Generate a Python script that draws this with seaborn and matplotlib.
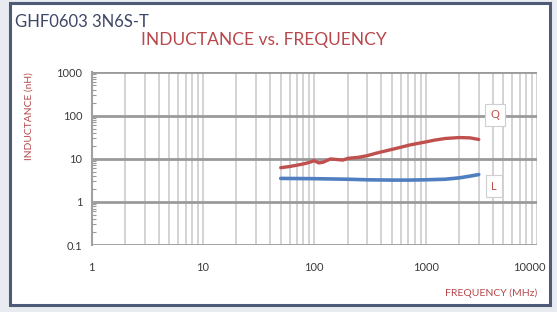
import matplotlib
matplotlib.use("Agg")
import matplotlib.pyplot as plt
import matplotlib.patches as mpatches
import matplotlib.ticker as mticker
import matplotlib.transforms as mtransforms
import numpy as np
import pandas as pd
import seaborn as sns

# ---- data ----
freq_q = [50, 60, 70, 80, 90, 100, 110, 120, 140, 160, 180, 200, 250, 300, 350, 400,
          500, 600, 700, 800, 1000, 1200, 1500, 2000, 2500, 3000]
q_vals = [6.2, 6.6, 7.1, 7.6, 8.2, 9.0, 8.0, 8.3, 9.9, 9.6, 9.3, 10.2, 10.8, 11.8, 13.2, 14.4,
          16.5, 18.5, 20.5, 22.0, 24.5, 27.0, 29.5, 31.0, 30.5, 28.0]
freq_l = [50, 100, 200, 300, 500, 700, 1000, 1500, 2000, 2500, 3000]
l_vals = [3.5, 3.45, 3.35, 3.25, 3.2, 3.2, 3.25, 3.35, 3.6, 3.95, 4.3]

x_ticks = [1, 10, 100, 1000, 10000]
x_tick_labels = ["1", "10", "100", "1000", "10000"]
y_ticks = [0.1, 1, 10, 100, 1000]
y_tick_labels = ["0.1", "1", "10", "100", "1000"]

title_part = "GHF0603 3N6S-T"
title_main = "INDUCTANCE vs. FREQUENCY"
x_label = "FREQUENCY (MHz)"
y_label = "INDUCTANCE (nH)"

RED = "#c0504d"
BLUE = "#4f7fc0"
TXT_RED = "#b8474b"

sns.set_theme(style="white")
plt.rcParams["font.family"] = ["Lato", "DejaVu Sans"]

fig = plt.figure(figsize=(5.57, 3.12), dpi=100)
fig.patch.set_facecolor("#e8ecf0")
W, H = 557, 312
panel = mpatches.Rectangle((10 / W, 1 - 305 / H), 540 / W, 302 / H,
                           transform=fig.transFigure, facecolor="white",
                           edgecolor="#4d5a78", linewidth=2.2, zorder=-5)
fig.patches.append(panel)

ax = fig.add_axes([91.5 / W, 1 - 245 / H, 445.5 / W, 172.5 / H])
ax.set_zorder(2)
ax.set_facecolor("none")

df_q = pd.DataFrame({"f": freq_q, "v": q_vals})
df_l = pd.DataFrame({"f": freq_l, "v": l_vals})
sns.lineplot(data=df_q, x="f", y="v", ax=ax, color=RED, linewidth=2.4, zorder=5)
sns.lineplot(data=df_l, x="f", y="v", ax=ax, color=BLUE, linewidth=2.6, zorder=5)

ax.set_xscale("log")
ax.set_yscale("log")
ax.set_xlim(1, 10000)
ax.set_ylim(0.1, 1000)

ax.xaxis.set_major_locator(mticker.FixedLocator(x_ticks))
ax.xaxis.set_minor_locator(mticker.LogLocator(base=10, subs=np.arange(2, 10)))
ax.yaxis.set_major_locator(mticker.FixedLocator(y_ticks))
ax.yaxis.set_minor_locator(mticker.LogLocator(base=10, subs=np.arange(2, 10)))
ax.set_xticklabels(x_tick_labels)
ax.set_yticklabels(y_tick_labels)
ax.xaxis.set_minor_formatter(mticker.NullFormatter())
ax.yaxis.set_minor_formatter(mticker.NullFormatter())

ax.grid(which="both", axis="x", color="#cccccc", linewidth=1.2)
ax.grid(which="major", axis="y", color="#9a9a9a", linewidth=2.0)
ax.set_axisbelow(True)

for s in ["top", "right", "bottom"]:
    ax.spines[s].set_visible(False)
ax.spines["left"].set_color("#a0a0a0")
ax.spines["left"].set_linewidth(1.5)

ax.tick_params(axis="x", which="both", length=0, pad=12, labelsize=8, labelcolor="#3a3a3a")
ax.tick_params(axis="y", which="major", length=0, pad=6.5, labelsize=8, labelcolor="#3a3a3a")
ax.tick_params(axis="y", which="minor", direction="in", length=3, width=0.8, color="#999999", left=True)

# last x label sits slightly left of its gridline, as in the reference
last_lbl = ax.get_xticklabels()[-1]
last_lbl.set_transform(last_lbl.get_transform() +
                       mtransforms.ScaledTranslation(-8 / 100, 0, fig.dpi_scale_trans))

ax.set_xlabel("")
ax.set_ylabel("")

fig.text(15 / W, 1 - 22 / H, title_part, ha="left", va="center", fontsize=12, color="#3d4766")
fig.text(264 / W, 1 - 40 / H, title_main, ha="center", va="center", fontsize=12.5, color=TXT_RED)
fig.text(29 / W, 1 - 116 / H, y_label, ha="center", va="center", rotation=90, fontsize=7.4, color=TXT_RED)
fig.text(537 / W, 1 - 293 / H, x_label, ha="right", va="center", fontsize=7.5, color=TXT_RED)

box = dict(boxstyle="square,pad=0.5", facecolor="white", edgecolor="#cfcfcf", linewidth=0.8)
ax.text((495 - 91.5) / 445.5, (245 - 115) / 172.5, "Q", transform=ax.transAxes, ha="center", va="center",
        fontsize=8, color=RED, bbox=box, zorder=6)
ax.text((494 - 91.5) / 445.5, (245 - 186) / 172.5, "L", transform=ax.transAxes, ha="center", va="center",
        fontsize=8, color=RED, bbox=box, zorder=6)

fig.savefig("out.png", dpi=100, facecolor=fig.get_facecolor())
